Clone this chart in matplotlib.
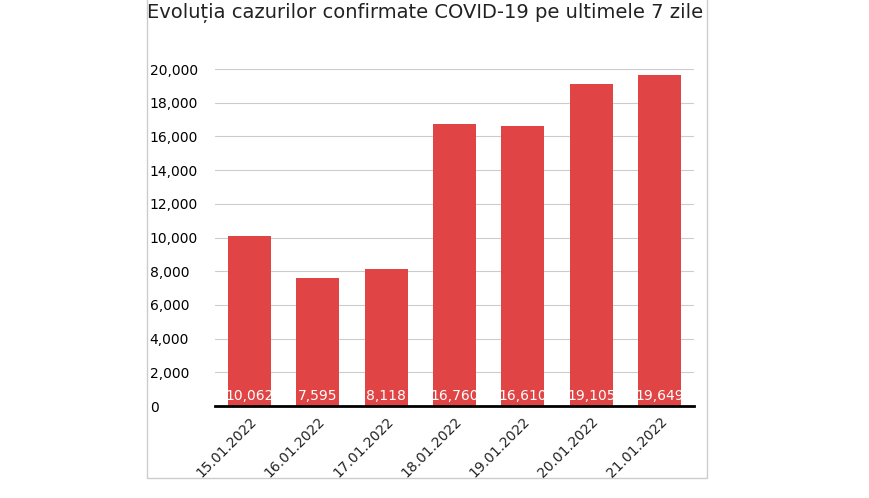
import matplotlib.pyplot as plt
from matplotlib.patches import Rectangle

dates = ['15.01.2022', '16.01.2022', '17.01.2022', '18.01.2022',
         '19.01.2022', '20.01.2022', '21.01.2022']
cases = [10062, 7595, 8118, 16760, 16610, 19105, 19649]
yticks = [0, 2000, 4000, 6000, 8000, 10000, 12000, 14000, 16000, 18000, 20000]

W, H = 870, 498
fig = plt.figure(figsize=(W / 100, H / 100), dpi=100)
fig.patches.append(Rectangle((147 / W, 20 / H), (707 - 147) / W, 480 / H,
                             transform=fig.transFigure, fill=False,
                             edgecolor='#cccccc', linewidth=1))

ax = fig.add_axes([215 / W, (H - 406) / H, (694 - 215) / W, (406 - 69) / H])
x = range(len(dates))
ax.bar(x, cases, width=0.63, color='#e04444', zorder=2)
for i, v in zip(x, cases):
    ax.text(i, 150, f'{v:,}', color='white', ha='center', va='bottom', fontsize=10, zorder=3)

ax.set_xlim(-0.5, len(dates) - 0.5)
ax.set_ylim(0, 20000)
ax.set_yticks(yticks)
ax.set_yticklabels([f'{t:,}' for t in yticks], ha='left', fontsize=10)
ax.tick_params(axis='y', length=0, pad=47)
ax.set_xticks(list(x))
ax.set_xticklabels(dates, rotation=45, ha='right', rotation_mode='anchor', fontsize=10, color='#222222')
ax.tick_params(axis='x', length=0, pad=6)
ax.grid(axis='y', color='#cccccc', linewidth=0.8, zorder=0)
for s in ['top', 'right', 'left']:
    ax.spines[s].set_visible(False)
ax.spines['bottom'].set_linewidth(2)
ax.spines['bottom'].set_color('black')
ax.spines['bottom'].set_zorder(4)

fig.text(425 / W, 1 - 13 / H, 'Evoluția cazurilor confirmate COVID-19 pe ultimele 7 zile',
         ha='center', va='center', fontsize=14, color='#222222')

fig.savefig('out.png', dpi=100)
